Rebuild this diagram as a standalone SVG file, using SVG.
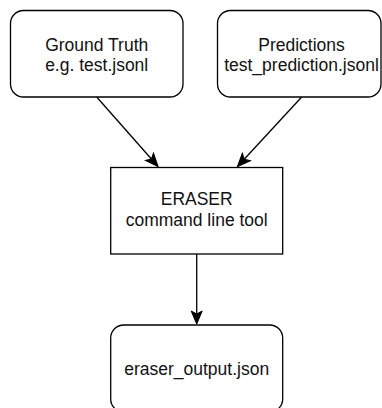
<svg xmlns="http://www.w3.org/2000/svg" width="382" height="408" viewBox="0 0 382 408">
  <defs>
    <style>
      .box { fill: #ffffff; stroke: #000000; stroke-width: 1.3; }
      .lbl { font-family: "Liberation Sans", Arial, sans-serif; font-size: 17.5px; fill: #111111; text-anchor: middle; }
      .edge { fill: none; stroke: #000000; stroke-width: 1.3; }
    </style>
    <marker id="arrow" markerUnits="userSpaceOnUse" markerWidth="16" markerHeight="14" viewBox="-14 -7 16 14" refX="0" refY="0" orient="auto">
      <path d="M -13 -5.5 L 0 0 L -13 5.5 L -10 0 Z" fill="#000000" stroke="#000000" stroke-width="1"/>
    </marker>
  </defs>
  <rect width="382" height="408" fill="#ffffff"/>
  <g id="connectors">
    <line class="edge" x1="96.7" y1="97" x2="158" y2="166.5" marker-end="url(#arrow)"/>
    <line class="edge" x1="301.7" y1="97" x2="237.5" y2="166.5" marker-end="url(#arrow)"/>
    <line class="edge" x1="196.7" y1="254" x2="196.7" y2="324" marker-end="url(#arrow)"/>
  </g>
  <g id="ground-truth">
    <rect class="box" x="10.5" y="10.5" width="172.5" height="86.5" rx="13" ry="13"/>
    <text class="lbl" x="96.7" y="51">Ground Truth</text>
    <text class="lbl" x="96.7" y="71">e.g. test.jsonl</text>
  </g>
  <g id="predictions">
    <rect class="box" x="217.5" y="10.5" width="163.5" height="86.5" rx="13" ry="13"/>
    <text class="lbl" x="301.5" y="51">Predictions</text>
    <text class="lbl" x="301.5" y="71">test_prediction.jsonl</text>
  </g>
  <g id="eraser">
    <rect class="box" x="110.7" y="167.5" width="172" height="86.5"/>
    <text class="lbl" x="196.7" y="205">ERASER</text>
    <text class="lbl" x="196.7" y="226">command line tool</text>
  </g>
  <g id="output">
    <rect class="box" x="110.7" y="325" width="172" height="87" rx="13" ry="13"/>
    <text class="lbl" x="196.7" y="375">eraser_output.json</text>
  </g>
</svg>
